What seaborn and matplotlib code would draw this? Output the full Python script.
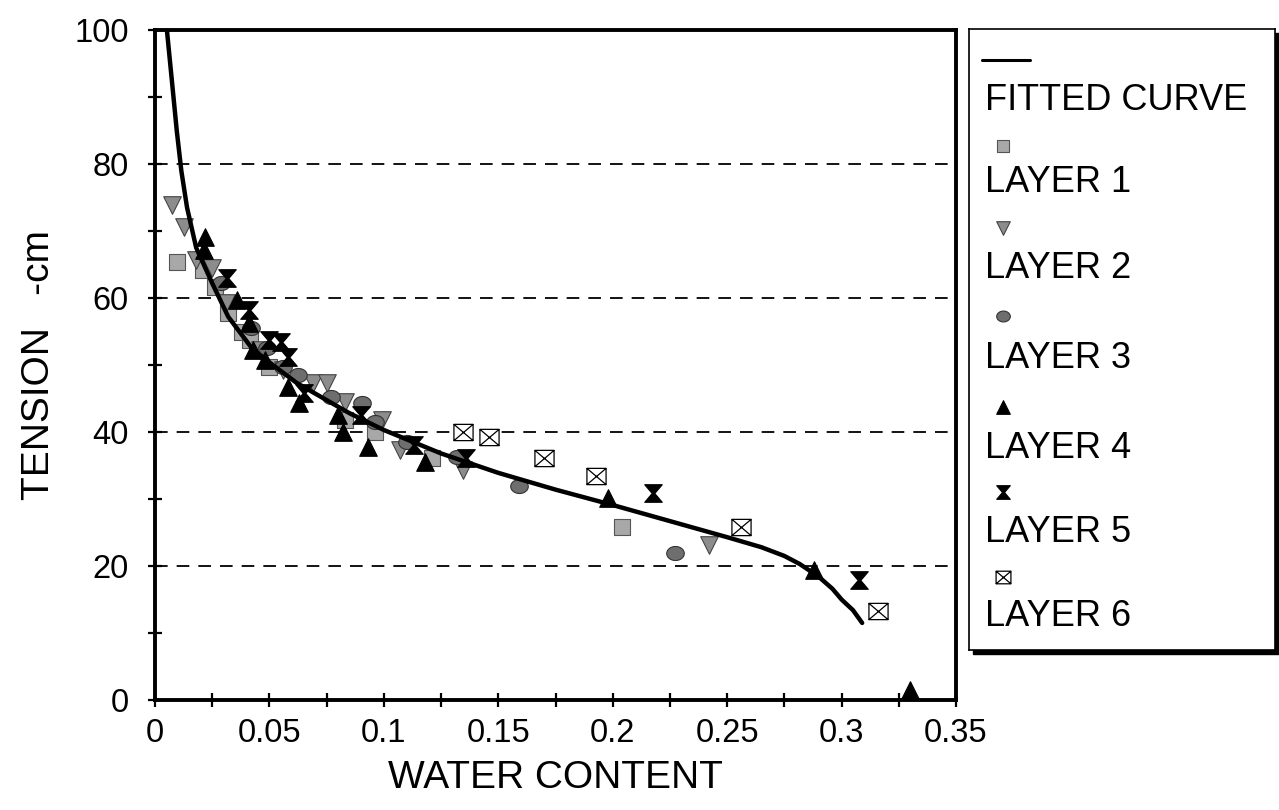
import numpy as np
import matplotlib
matplotlib.use("Agg")
import matplotlib.pyplot as plt
from matplotlib.path import Path
from matplotlib.patches import Rectangle
from matplotlib.ticker import MultipleLocator, FuncFormatter
import seaborn as sns

# ---- data -------------------------------------------------------------
curve_x = [0.0052, 0.0075, 0.0095, 0.0115, 0.014, 0.018, 0.025, 0.032, 0.043,
           0.062, 0.085, 0.100, 0.125, 0.150, 0.175, 0.200, 0.225, 0.250,
           0.265, 0.275, 0.2817, 0.290, 0.296, 0.300, 0.305, 0.309]
curve_y = [100, 92, 85, 79, 73.5, 67.5, 62.2, 57.2, 52.2,
           47.3, 42.8, 40.3, 36.8, 33.9, 31.4, 29.1, 26.7, 24.3,
           22.8, 21.5, 20.3, 18.4, 16.6, 15.0, 13.4, 11.5]

layer1_x = [0.0096, 0.021, 0.026, 0.032, 0.038, 0.0415, 0.050, 0.083, 0.096, 0.121, 0.204]
layer1_y = [65.4, 64.2, 61.6, 57.8, 54.9, 53.7, 49.7, 41.8, 40.0, 36.1, 25.8]

layer2_x = [0.0074, 0.0127, 0.018, 0.025, 0.031, 0.046, 0.056, 0.069, 0.075,
            0.083, 0.099, 0.107, 0.1345, 0.242]
layer2_y = [73.9, 70.6, 65.7, 64.5, 59.2, 52.2, 49.2, 47.3, 47.3,
            44.5, 41.8, 37.3, 34.3, 23.2]

layer3_x = [0.029, 0.042, 0.049, 0.056, 0.0624, 0.077, 0.0904, 0.096, 0.110,
            0.132, 0.159, 0.227]
layer3_y = [62.2, 55.5, 52.5, 49.7, 48.5, 45.2, 44.3, 41.5, 38.5,
            36.3, 31.9, 21.9]

layer4_x = [0.0218, 0.0214, 0.036, 0.041, 0.043, 0.048, 0.058, 0.063, 0.080,
            0.082, 0.093, 0.118, 0.198, 0.288, 0.330]
layer4_y = [69.1, 67.2, 59.7, 56.3, 52.2, 50.7, 46.7, 44.3, 42.5,
            40.0, 37.8, 35.5, 30.1, 19.4, 1.5]

layer5_x = [0.0314, 0.041, 0.050, 0.055, 0.058, 0.065, 0.090, 0.113, 0.136,
            0.2175, 0.3074]
layer5_y = [63.0, 58.2, 53.7, 53.4, 51.2, 45.8, 42.5, 38.0, 36.1,
            30.9, 17.9]

layer6_x = [0.1345, 0.146, 0.170, 0.1926, 0.256, 0.3157]
layer6_y = [40.0, 39.3, 36.1, 33.4, 25.8, 13.3]

legend_labels = ["FITTED CURVE", "LAYER 1", "LAYER 2", "LAYER 3",
                 "LAYER 4", "LAYER 5", "LAYER 6"]

# ---- marker shapes ----------------------------------------------------
hourglass = Path([(-1, 1), (1, 1), (0.15, 0), (1, -1), (-1, -1), (-0.15, 0), (-1, 1)],
                 [Path.MOVETO] + [Path.LINETO] * 5 + [Path.CLOSEPOLY])
boxx = Path([(-1, -0.85), (1, -0.85), (1, 0.85), (-1, 0.85), (-1, -0.85),
             (-1, -0.85), (1, 0.85), (-1, 0.85), (1, -0.85)],
            [Path.MOVETO, Path.LINETO, Path.LINETO, Path.LINETO, Path.CLOSEPOLY,
             Path.MOVETO, Path.LINETO, Path.MOVETO, Path.LINETO])
_t = np.linspace(0, 2 * np.pi, 40)
ellipse = Path(np.column_stack([np.cos(_t), 0.8 * np.sin(_t)]), closed=True)

styles = [
    dict(marker="s", s=130, color="#a8a8a8", edgecolor="#555555", linewidth=0.8),
    dict(marker="v", s=160, color="#8c8c8c", edgecolor="#444444", linewidth=0.8),
    dict(marker=ellipse, s=160, color="#6e6e6e", edgecolor="#333333", linewidth=0.8),
    dict(marker="^", s=160, color="black", edgecolor="black", linewidth=0.8),
    dict(marker=hourglass, s=160, color="black", edgecolor="black", linewidth=0.8),
    dict(marker=boxx, s=190, color="white", edgecolor="black", linewidth=0.9),
]
layers = [(layer1_x, layer1_y), (layer2_x, layer2_y), (layer3_x, layer3_y),
          (layer4_x, layer4_y), (layer5_x, layer5_y), (layer6_x, layer6_y)]

# ---- figure -----------------------------------------------------------
sns.set_style("white")
plt.rcParams["font.family"] = ["Liberation Sans", "DejaVu Sans"]
plt.rcParams["axes.labelcolor"] = "black"
plt.rcParams["text.color"] = "black"

W, H = 1279, 810
fig = plt.figure(figsize=(W / 100, H / 100), dpi=100)
ax = fig.add_axes([155 / W, 1 - 700 / H, (956 - 155) / W, (700 - 30) / H])

sns.lineplot(x=curve_x, y=curve_y, ax=ax, color="black", linewidth=3.2,
             sort=False, zorder=4)
for (lx, ly), st in zip(layers, styles):
    sns.scatterplot(x=lx, y=ly, ax=ax, zorder=3, **st)

ax.set_xlim(0, 0.35)
ax.set_ylim(0, 100)
ax.xaxis.set_major_locator(MultipleLocator(0.05))
ax.xaxis.set_minor_locator(MultipleLocator(0.025))
ax.yaxis.set_major_locator(MultipleLocator(20))
ax.yaxis.set_minor_locator(MultipleLocator(10))
ax.xaxis.set_major_formatter(FuncFormatter(lambda v, p: f"{v:g}"))
ax.tick_params(which="both", direction="inout", length=10, width=1.6,
               colors="black", labelsize=23.5, bottom=True, left=True)
ax.tick_params(axis="y", pad=14)
ax.tick_params(axis="x", pad=8)
ax.yaxis.grid(True, which="major", linestyle=(0, (7, 5)), color="black",
              linewidth=1.3)
ax.xaxis.grid(False)
for side, sp in ax.spines.items():
    sp.set_visible(True)
    sp.set_color("black")
    sp.set_linewidth(2.8)

ax.set_xlabel("WATER CONTENT", fontsize=28, labelpad=8, color="black")
ax.set_ylabel("TENSION   -cm", fontsize=28, labelpad=12, color="black")

# ---- legend box: each marker sits above its label ----------------------
lx0, ly0, lx1, ly1 = 969, 29, 1275, 650
fig.patches.append(Rectangle(((lx0 + 4) / W, 1 - (ly1 + 4) / H),
                             (lx1 - lx0) / W, (ly1 - ly0) / H,
                             transform=fig.transFigure, color="black", zorder=0))
lax = fig.add_axes([lx0 / W, 1 - ly1 / H, (lx1 - lx0) / W, (ly1 - ly0) / H], zorder=1)
lax.set_facecolor("white")
lax.set_xlim(0, lx1 - lx0)
lax.set_ylim(ly1 - ly0, 0)
lax.set_xticks([])
lax.set_yticks([])
for sp in lax.spines.values():
    sp.set_visible(True)
    sp.set_color("black")
    sp.set_linewidth(1.2)

lax.plot([13, 61], [31, 31], color="black", linewidth=2.2)
marker_rows = [117, 199, 287, 378, 463, 548]
label_rows = [71, 154, 239, 329, 419, 504, 588]
for row, st in zip(marker_rows, styles):
    leg_st = dict(st)
    leg_st["s"] = st["s"] * 0.6
    lax.scatter([34], [row], **leg_st)
for row, lab in zip(label_rows, legend_labels):
    lax.text(16, row, lab, fontsize=26, va="center", ha="left", color="black")

fig.savefig("out.png", dpi=100)
